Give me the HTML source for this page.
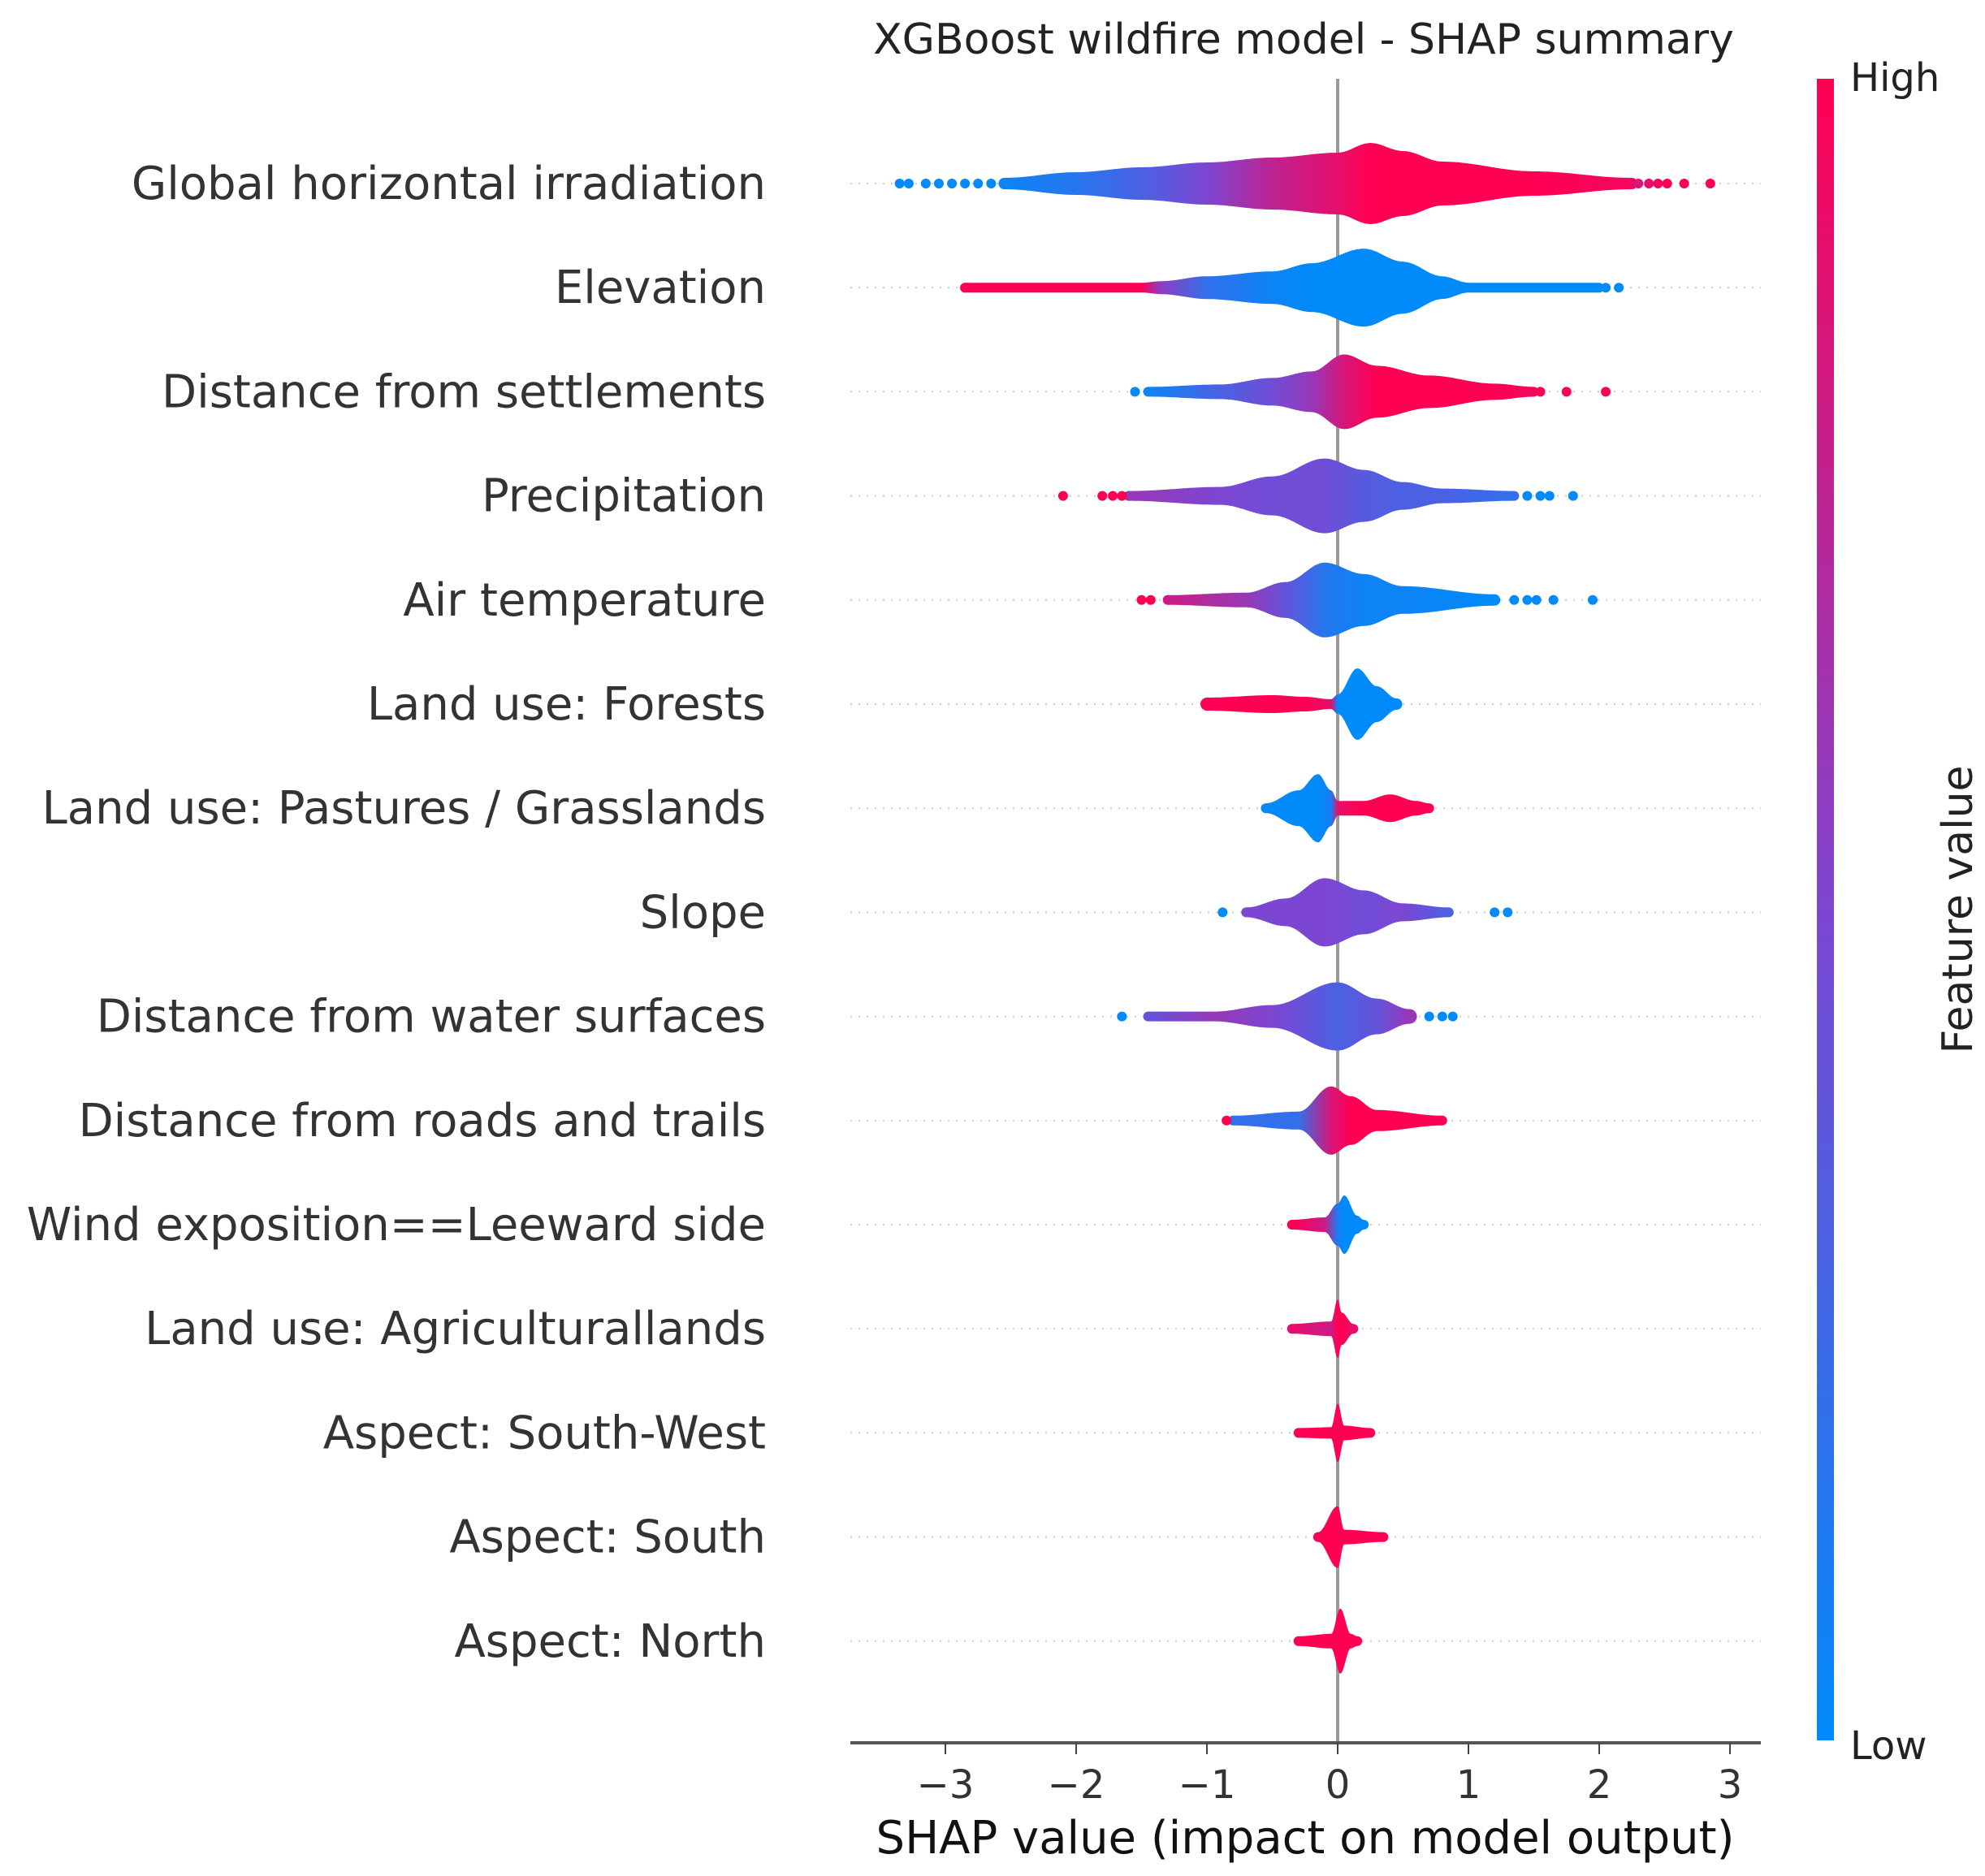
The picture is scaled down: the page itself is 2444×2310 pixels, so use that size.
<!DOCTYPE html>
<html><head><meta charset="utf-8"><style>
html,body{margin:0;padding:0;background:#fff;}
svg{display:block;font-family:"DejaVu Sans","Liberation Sans",sans-serif;}
</style></head><body>
<svg id="chart" width="2444" height="2310" viewBox="0 0 2444 2310" xmlns="http://www.w3.org/2000/svg">
<defs>
<linearGradient id="cbar" x1="0" y1="1" x2="0" y2="0">
<stop offset="0" stop-color="rgb(0,138,250)"/><stop offset="0.5" stop-color="rgb(125,70,210)"/><stop offset="1" stop-color="rgb(255,0,82)"/>
</linearGradient>
</defs>
<text x="1605" y="66" font-size="52" text-anchor="middle" fill="#222">XGBoost wildfire model - SHAP summary</text>
<g id="grid"></g>
<line x1="1647" y1="97" x2="1647" y2="2146" stroke="#999" stroke-width="4"/>
<g id="marks"></g>
<g id="labels"></g>
<line x1="1047" y1="2146" x2="2168" y2="2146" stroke="#555" stroke-width="4"/>
<g id="xticks"></g>
<text x="1607" y="2282" font-size="56" text-anchor="middle" fill="#111">SHAP value (impact on model output)</text>
<rect x="2237" y="97" width="21" height="2046" fill="url(#cbar)"/>
<text x="2278" y="112" font-size="48" fill="#222">High</text>
<text x="2278" y="2166" font-size="48" fill="#222">Low</text>
<text x="0" y="0" font-size="52" fill="#222" text-anchor="middle" transform="translate(2428,1120) rotate(-90)">Feature value</text>
</svg>
<script>
const features=["Global horizontal irradiation","Elevation","Distance from settlements","Precipitation","Air temperature","Land use: Forests","Land use: Pastures / Grasslands","Slope","Distance from water surfaces","Distance from roads and trails","Wind exposition==Leeward side","Land use: Agriculturallands","Aspect: South-West","Aspect: South","Aspect: North"];
const tickValues=[-3,-2,-1,0,1,2,3];
const tickLabels=["\u22123","\u22122","\u22121","0","1","2","3"];
// knot SHAP positions, half-widths (density), feature-value colours
const knotX=[
[-2.55,-2,-1.5,-1,-0.5,0,0.25,0.5,0.8,1.5,2.25],
[-2.85,-1.5,-1.35,-1,-0.5,-0.2,0.2,0.5,0.8,1.0,2.0],
[-1.45,-0.9,-0.5,-0.2,0.05,0.3,0.7,1.2,1.5],
[-1.6,-0.9,-0.5,-0.1,0.2,0.5,0.8,1.35],
[-1.3,-0.7,-0.4,-0.1,0.2,0.5,1.2],
[-1.0,-0.5,-0.25,-0.05,0,0.15,0.3,0.45],
[-0.55,-0.3,-0.15,-0.05,0,0.2,0.4,0.6,0.7],
[-0.7,-0.4,-0.1,0.2,0.5,0.85],
[-1.45,-0.95,-0.5,0,0.3,0.55],
[-0.8,-0.3,-0.05,0.1,0.3,0.8],
[-0.35,-0.1,0,0.05,0.15,0.2],
[-0.35,-0.05,0,0.03,0.12],
[-0.3,-0.05,0,0.05,0.25],
[-0.15,0,0.05,0.35],
[-0.3,-0.05,0.02,0.1,0.15]];
const knotW=[
[7,14,20,26,32,38,50,40,27,15,7],
[6,6,8,14,20,30,48,32,14,6,6],
[6,9,17,25,46,32,20,10,6],
[6,11,24,46,32,17,9,6],
[6,9,22,46,32,17,7],
[8,11,9,6,12,44,22,7],
[6,22,42,22,9,9,17,9,6],
[6,17,42,27,11,6],
[6,6,14,42,22,9],
[6,11,42,30,13,6],
[6,9,26,36,11,6],
[6,9,36,20,6],
[6,7,36,9,6],
[6,38,9,6],
[6,9,40,9,6]];
const knotC=[
[0.05,0.15,0.3,0.5,0.75,0.9,1,1,1,1,0.95],
[1,1,0.55,0.2,0.05,0,0,0,0,0,0],
[0.05,0.3,0.45,0.6,0.85,1,1,1,0.95],
[0.6,0.5,0.45,0.45,0.35,0.3,0.3,0.2],
[0.8,0.6,0.4,0.15,0.05,0.05,0],
[1,1,1,0.9,0,0,0,0],
[0,0,0,0.1,0.9,1,1,1,1],
[0.5,0.5,0.5,0.45,0.5,0.3],
[0.4,0.6,0.5,0.3,0.4,0.6],
[0.2,0.2,0.85,1,1,1],
[1,0.8,0.1,0,0,0],
[0.9,0.8,1,1,0.9],
[1,1,1,1,1],
[1,1,1,1],
[1,1,1,1,1]];
// isolated outlying points
const dotX=[
[-3.35,-3.28,-3.15,-3.05,-2.95,-2.85,-2.75,-2.65,2.3,2.38,2.45,2.52,2.65,2.85],
[-2.85,2.05,2.15],
[-1.55,1.55,1.75,2.05],
[-2.1,-1.8,-1.72,-1.65,1.45,1.55,1.62,1.8],
[-1.5,-1.43,1.35,1.45,1.52,1.65,1.95],
[],[],
[-0.88,1.2,1.3],
[-1.65,0.7,0.8,0.88],
[-0.85],[],[],[],[],[]];
const dotC=[
[0,0,0,0,0,0,0,0,0.85,0.9,0.95,1,1,1],
[1,0,0],
[0,1,1,1],
[1,1,1,1,0,0,0,0],
[1,1,0,0,0,0,0],
[],[],
[0,0,0],
[0,0,0,0],
[1],[],[],[],[],[]];

const X0=1647, UNIT=161, ROW0=226, ROWH=128.2;
const xs=v=>X0+v*UNIT, ys=i=>ROW0+i*ROWH;
function col(t){const a=[0,138,250],b=[125,70,210],c=[255,0,82];let p,q,u;
 if(t<0.5){p=a;q=b;u=t/0.5}else{p=b;q=c;u=(t-0.5)/0.5}
 return `rgb(${p.map((v,i)=>Math.round(v+(q[i]-v)*u)).join(',')})`;}
const NS="http://www.w3.org/2000/svg";
const mk=(t,at,parent)=>{const e=document.createElementNS(NS,t);for(const k in at)e.setAttribute(k,at[k]);parent.appendChild(e);return e;};
const defs=document.querySelector('defs'),grid=document.getElementById('grid'),marks=document.getElementById('marks'),labels=document.getElementById('labels'),xt=document.getElementById('xticks');
features.forEach((f,i)=>{
 const y=ys(i);
 const gl=mk('line',{x1:1047,x2:2168,y1:y,y2:y,stroke:'#ccc','stroke-width':2,'stroke-dasharray':'2,8'},grid);
 
 
 const lb=mk('text',{x:943,y:y+19,'font-size':56,'text-anchor':'end',fill:'#333'},labels);
 lb.textContent=f;
 
 
 const kx=knotX[i],kw=knotW[i],kc=knotC[i];
 const gid='g'+i;
 const gr=mk('linearGradient',{id:gid,gradientUnits:'userSpaceOnUse',x1:xs(kx[0]),x2:xs(kx[kx.length-1]),y1:0,y2:0},defs);
 const span=kx[kx.length-1]-kx[0];
 kx.forEach((v,j)=>mk('stop',{offset:(v-kx[0])/span,'stop-color':col(kc[j])},gr));
 const N=120;
 const top=[],bot=[];
 for(let s=0;s<=N;s++){const v=kx[0]+span*s/N;let j=0;while(j<kx.length-2&&v>kx[j+1])j++;
  const u=(v-kx[j])/(kx[j+1]-kx[j]);const sm=(1-Math.cos(Math.PI*u))/2;const w=kw[j]+(kw[j+1]-kw[j])*sm;
  top.push(xs(v).toFixed(1)+','+(y-w).toFixed(1));bot.unshift(xs(v).toFixed(1)+','+(y+w).toFixed(1));}
 const g=mk('g',{},marks);
 
 
 const p=mk('polygon',{points:top.concat(bot).join(' '),fill:`url(#${gid})`},g);
 
 
 mk('circle',{cx:xs(kx[0]),cy:y,r:kw[0],fill:col(kc[0])},g);
 mk('circle',{cx:xs(kx[kx.length-1]),cy:y,r:kw[kw.length-1],fill:col(kc[kc.length-1])},g);
 dotX[i].forEach((v,j)=>{const c=mk('circle',{cx:xs(v),cy:y,r:6,fill:col(dotC[i][j])},g);
  
  });
});
tickValues.forEach((v,i)=>{
 const t=mk('line',{x1:xs(v),x2:xs(v),y1:2146,y2:2160,stroke:'#444','stroke-width':2},xt);
 
 
 const l=mk('text',{x:xs(v),y:2214,'font-size':48,'text-anchor':'middle',fill:'#333'},xt);
 l.textContent=tickLabels[i];
 
 
});
</script>
</body></html>
